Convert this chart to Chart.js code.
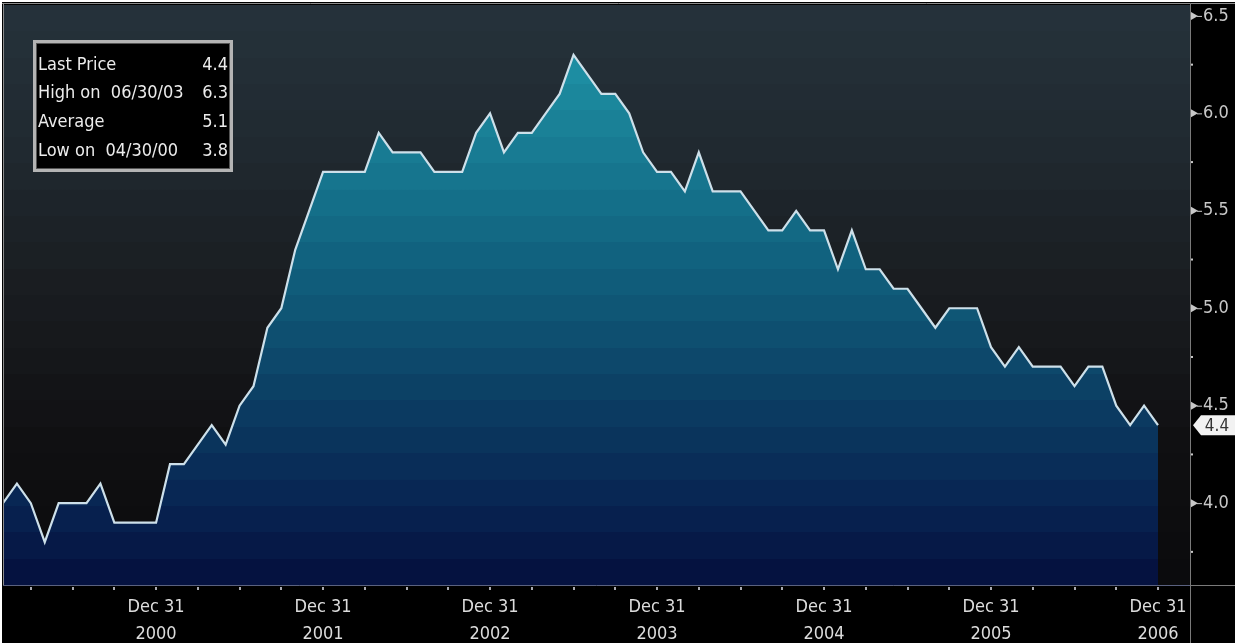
<!DOCTYPE html>
<html>
<head>
<meta charset="utf-8">
<script src="https://cdn.jsdelivr.net/npm/chart.js@4.4.1/dist/chart.umd.min.js"></script>
<style>
  html, body { margin: 0; padding: 0; background: #fff; }
  #wrap { width: 1235px; height: 643px; }
</style>
</head>
<body>
<div id="wrap"><canvas id="chart"></canvas></div>
<script>
// monthly values, Jan..Dec of each year
const years = ['2000', '2001', '2002', '2003', '2004', '2005', '2006'];
const rate2000 = [4.0, 4.1, 4.0, 3.8, 4.0, 4.0, 4.0, 4.1, 3.9, 3.9, 3.9, 3.9];
const rate2001 = [4.2, 4.2, 4.3, 4.4, 4.3, 4.5, 4.6, 4.9, 5.0, 5.3, 5.5, 5.7];
const rate2002 = [5.7, 5.7, 5.7, 5.9, 5.8, 5.8, 5.8, 5.7, 5.7, 5.7, 5.9, 6.0];
const rate2003 = [5.8, 5.9, 5.9, 6.0, 6.1, 6.3, 6.2, 6.1, 6.1, 6.0, 5.8, 5.7];
const rate2004 = [5.7, 5.6, 5.8, 5.6, 5.6, 5.6, 5.5, 5.4, 5.4, 5.5, 5.4, 5.4];
const rate2005 = [5.2, 5.4, 5.2, 5.2, 5.1, 5.1, 5.0, 4.9, 5.0, 5.0, 5.0, 4.8];
const rate2006 = [4.7, 4.8, 4.7, 4.7, 4.7, 4.6, 4.7, 4.7, 4.5, 4.4, 4.5, 4.4];
const rates = [].concat(rate2000, rate2001, rate2002, rate2003, rate2004, rate2005, rate2006);

const yTicks = [4.0, 4.5, 5.0, 5.5, 6.0, 6.5];
const yMinorTicks = [3.75, 4.25, 4.75, 5.25, 5.75, 6.25];
const lastPrice = '4.4';
const legendRows = [
  ['Last Price', '4.4'],
  ['High on  06/30/03', '6.3'],
  ['Average', '5.1'],
  ['Low on  04/30/00', '3.8'],
];

const FONT = '"DejaVu Sans Condensed", "Liberation Sans", sans-serif';

const fillStops = [
  [0, [34, 155, 176]], [0.17, [27, 134, 155]], [0.34, [20, 111, 137]],
  [0.52, [15, 86, 117]], [0.69, [11, 60, 98]], [0.86, [8, 36, 82]], [1, [4, 14, 60]],
];
const bgStops = [
  [0, [38, 50, 59]], [0.25, [32, 41, 48]], [0.5, [25, 28, 32]],
  [0.75, [16, 16, 18]], [1, [10, 10, 12]],
];

function mix(stops, t) {
  for (let i = 1; i < stops.length; i++) {
    if (t <= stops[i][0]) {
      const [t0, a] = stops[i - 1];
      const [t1, b] = stops[i];
      const f = (t - t0) / (t1 - t0);
      const c = a.map((v, k) => Math.round(v + (b[k] - v) * f));
      return `rgb(${c[0]},${c[1]},${c[2]})`;
    }
  }
  const c = stops[stops.length - 1][1];
  return `rgb(${c[0]},${c[1]},${c[2]})`;
}

// stepped (banded) vertical gradient
function bands(ctx, top, bottom, stops, n) {
  const g = ctx.createLinearGradient(0, top, 0, bottom);
  for (let k = 0; k < n; k++) {
    const c = mix(stops, (k + 0.5) / n);
    g.addColorStop(k / n, c);
    g.addColorStop(k === n - 1 ? 1 : (k + 1) / n - 0.0001, c);
  }
  return g;
}

const decorPlugin = {
  id: 'decor',
  beforeDraw(chart) {
    const { ctx, chartArea, width, height } = chart;
    const { left, right, top, bottom } = chartArea;
    ctx.save();
    ctx.fillStyle = '#fff';
    ctx.fillRect(0, 0, width, height);
    ctx.fillStyle = '#000';
    ctx.fillRect(2, 2, width - 2, height - 2);
    ctx.fillStyle = bands(ctx, top, bottom, bgStops, 22);
    ctx.fillRect(left, top, right - left, bottom - top);
    ctx.restore();
  },
  afterDraw(chart) {
    const { ctx, chartArea, width, height } = chart;
    const { left, right, top, bottom } = chartArea;
    const xs = chart.scales.x;
    const ys = chart.scales.y;
    ctx.save();

    // frame lines
    ctx.strokeStyle = '#8c8c8c';
    ctx.lineWidth = 1;
    ctx.beginPath();
    ctx.moveTo(2, 3.5); ctx.lineTo(width, 3.5);
    ctx.moveTo(3.5, 3); ctx.lineTo(3.5, bottom);
    ctx.stroke();

    ctx.strokeStyle = '#7a7a7a';
    ctx.beginPath();
    ctx.moveTo(right + 0.5, 3); ctx.lineTo(right + 0.5, height);
    ctx.moveTo(right, bottom + 0.5); ctx.lineTo(width, bottom + 0.5);
    ctx.stroke();

    ctx.strokeStyle = 'rgba(120,130,170,0.75)';
    ctx.beginPath();
    ctx.moveTo(left, bottom + 0.5); ctx.lineTo(right, bottom + 0.5);
    ctx.stroke();

    // y tick markers
    ctx.fillStyle = '#c8c8c8';
    ctx.strokeStyle = '#c8c8c8';
    yTicks.forEach(v => {
      const y = ys.getPixelForValue(v);
      ctx.beginPath();
      ctx.moveTo(right + 1, y - 4);
      ctx.lineTo(right + 8, y);
      ctx.lineTo(right + 1, y + 4);
      ctx.closePath();
      ctx.fill();
      ctx.beginPath();
      ctx.moveTo(right + 7, y + 0.5); ctx.lineTo(right + 12, y + 0.5);
      ctx.stroke();
    });
    yMinorTicks.forEach(v => {
      const y = ys.getPixelForValue(v);
      ctx.fillRect(right + 1, y - 1, 2, 2);
    });

    // quarterly ticks along the bottom
    ctx.fillStyle = '#a8a8b0';
    for (let i = 2; i < rates.length; i += 3) {
      const x = xs.getPixelForValue(i);
      ctx.fillRect(Math.round(x) - 1, bottom + 2, 2, 3);
    }

    // last price tag
    const ly = ys.getPixelForValue(rates[rates.length - 1]);
    ctx.fillStyle = '#f2f2f2';
    ctx.beginPath();
    ctx.moveTo(right + 3, ly);
    ctx.lineTo(right + 11, ly - 10);
    ctx.lineTo(width, ly - 10);
    ctx.lineTo(width, ly + 10);
    ctx.lineTo(right + 11, ly + 10);
    ctx.closePath();
    ctx.fill();
    ctx.fillStyle = '#333';
    ctx.font = '17px ' + FONT;
    ctx.textAlign = 'center';
    ctx.textBaseline = 'middle';
    ctx.fillText(lastPrice, right + 27, ly + 1);

    // stats box
    const bx = 33, by = 40, bw = 200, bh = 132;
    ctx.fillStyle = '#000';
    ctx.fillRect(bx, by, bw, bh);
    ctx.strokeStyle = '#b4b4b4';
    ctx.lineWidth = 3;
    ctx.strokeRect(bx + 1.5, by + 1.5, bw - 3, bh - 3);
    ctx.strokeStyle = '#555';
    ctx.lineWidth = 1;
    ctx.strokeRect(bx + 3.5, by + 3.5, bw - 7, bh - 7);
    ctx.fillStyle = '#ececec';
    ctx.font = '18px ' + FONT;
    ctx.textBaseline = 'middle';
    legendRows.forEach((row, k) => {
      const y = 65 + k * 28.7;
      ctx.textAlign = 'left';
      ctx.fillText(row[0], bx + 5, y);
      ctx.textAlign = 'right';
      ctx.fillText(row[1], bx + bw - 5, y);
    });

    ctx.restore();
  }
};

new Chart(document.getElementById('chart'), {
  type: 'line',
  data: {
    datasets: [{
      data: rates.map((v, i) => ({ x: i, y: v })),
      borderColor: '#cde0ea',
      borderWidth: 2.2,
      pointRadius: 0,
      tension: 0,
      fill: 'start',
      backgroundColor: (c) => {
        const area = c.chart.chartArea;
        if (!area) return 'rgba(20,100,130,1)';
        return bands(c.chart.ctx, area.top, area.bottom, fillStops, 22);
      },
    }],
  },
  options: {
    responsive: true,
    maintainAspectRatio: false,
    animation: false,
    layout: { padding: { left: 3, top: 5, right: 0, bottom: 0 } },
    plugins: { legend: { display: false }, tooltip: { enabled: false } },
    scales: {
      x: {
        type: 'linear',
        min: 0,
        max: 85.3,
        afterBuildTicks: (s) => { s.ticks = years.map((y, k) => ({ value: 11 + 12 * k })); },
        afterFit: (s) => { s.height = 58; s.paddingLeft = 0; s.paddingRight = 0; },
        grid: { display: false, drawTicks: false },
        border: { display: false },
        ticks: {
          autoSkip: false,
          maxRotation: 0,
          padding: 9,
          color: '#dcdcdc',
          font: { family: FONT, size: 18, lineHeight: 1.5 },
          callback: (v) => ['Dec 31', years[Math.round((v - 11) / 12)]],
        },
      },
      y: {
        position: 'right',
        min: 3.58,
        max: 6.556,
        afterBuildTicks: (s) => { s.ticks = yTicks.map(v => ({ value: v })); },
        afterFit: (s) => { s.width = 45; s.paddingTop = 0; s.paddingBottom = 0; },
        grid: { display: false, drawTicks: false },
        border: { display: false },
        ticks: {
          padding: 13,
          color: '#c8c8c8',
          font: { family: FONT, size: 18 },
          callback: (v) => Number(v).toFixed(1),
        },
      },
    },
  },
  plugins: [decorPlugin],
});
</script>
</body>
</html>
